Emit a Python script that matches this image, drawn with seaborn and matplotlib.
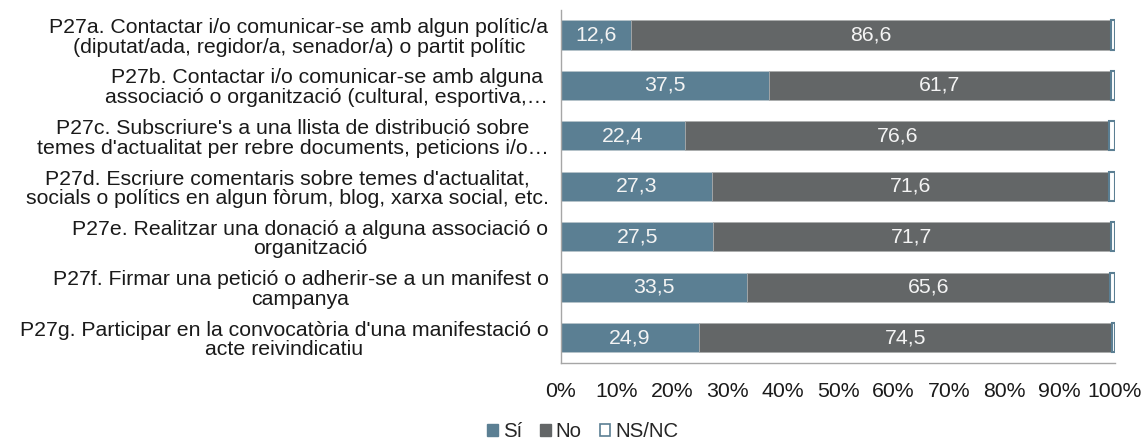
import matplotlib
matplotlib.use("Agg")
import matplotlib.pyplot as plt
import matplotlib.patches as mpatches
import seaborn as sns
import pandas as pd
import numpy as np

categories = [
    "P27a. Contactar i/o comunicar-se amb algun polític/a\n(diputat/ada, regidor/a, senador/a) o partit polític",
    "P27b. Contactar i/o comunicar-se amb alguna\nassociació o organització (cultural, esportiva,…",
    "P27c. Subscriure's a una llista de distribució sobre\ntemes d'actualitat per rebre documents, peticions i/o…",
    "P27d. Escriure comentaris sobre temes d'actualitat,\nsocials o polítics en algun fòrum, blog, xarxa social, etc.",
    "P27e. Realitzar una donació a alguna associació o\norganització",
    "P27f. Firmar una petició o adherir-se a un manifest o\ncampanya",
    "P27g. Participar en la convocatòria d'una manifestació o\nacte reivindicatiu",
]
si = [12.6, 37.5, 22.4, 27.3, 27.5, 33.5, 24.9]
no = [86.6, 61.7, 76.6, 71.6, 71.7, 65.6, 74.5]
nsnc = [0.8, 0.8, 1.0, 1.1, 0.8, 0.9, 0.6]
series_names = ["Sí", "No", "NS/NC"]
xticks = [0, 10, 20, 30, 40, 50, 60, 70, 80, 90, 100]

c_si = "#5B7F93"
c_no = "#636667"
c_ns = "#FFFFFF"
c_ns_edge = "#5B7F93"

sns.set_theme(style="white")
plt.rcParams["font.family"] = ["Liberation Sans", "DejaVu Sans"]

df = pd.DataFrame({"cat": categories, "si": si, "no": no, "nsnc": nsnc})
left_no = (df["si"]).tolist()
left_ns = (df["si"] + df["no"]).tolist()

fig = plt.figure(figsize=(11.43, 4.43), dpi=100)
ax = fig.add_axes([0.4908, 0.181, 0.4847, 0.797])

bw = 0.58
sns.barplot(data=df, x="si", y="cat", orient="h", color=c_si, edgecolor="#B8C4CA",
            linewidth=0.5, width=bw, ax=ax, errorbar=None, saturation=1)
sns.barplot(data=df, x="no", y="cat", orient="h", color=c_no, edgecolor="#A9ABAC",
            linewidth=0.5, width=bw, ax=ax, errorbar=None, saturation=1, left=left_no)
sns.barplot(data=df, x="nsnc", y="cat", orient="h", color=c_ns, edgecolor=c_ns_edge,
            linewidth=1.5, width=bw, ax=ax, errorbar=None, saturation=1, left=left_ns)

fmt = lambda v: f"{v:.1f}".replace(".", ",")
for i, row in df.iterrows():
    ax.text(row["si"] / 2, i, fmt(row["si"]), ha="center", va="center",
            color="#F4F4F4", fontsize=15.3)
    ax.text(row["si"] + row["no"] / 2, i, fmt(row["no"]), ha="center", va="center",
            color="#F4F4F4", fontsize=15.3)

ax.set_xlim(0, 100)
ax.set_ylim(6.5, -0.5)
ax.set_xticks(xticks)
ax.set_xticklabels([f"{t}%" for t in xticks], fontsize=15.3, color="#1a1a1a")
ax.set_yticks(range(len(categories)))
ax.set_yticklabels(categories, fontsize=15.3, color="#1a1a1a",
                   multialignment="center", linespacing=1.05)
ax.tick_params(axis="x", length=0, pad=14)
ax.tick_params(axis="y", length=0, pad=9)
ax.set_xlabel("")
ax.set_ylabel("")
for s in ["top", "right"]:
    ax.spines[s].set_visible(False)
ax.spines["left"].set_color("#A6A6A6")
ax.spines["bottom"].set_color("#A6A6A6")
ax.spines["left"].set_linewidth(1.0)
ax.spines["bottom"].set_linewidth(1.0)

handles = [
    mpatches.Patch(facecolor=c_si, edgecolor=c_si, label=series_names[0]),
    mpatches.Patch(facecolor=c_no, edgecolor=c_no, label=series_names[1]),
    mpatches.Patch(facecolor=c_ns, edgecolor=c_ns_edge, linewidth=1.2, label=series_names[2]),
]
fig.legend(handles=handles, loc="center", bbox_to_anchor=(0.510, 0.026), ncol=3,
           frameon=False, fontsize=14.7, handlelength=0.5, handleheight=0.5,
           handletextpad=0.25, columnspacing=0.9, borderpad=0)

fig.savefig("out.png", dpi=100)
